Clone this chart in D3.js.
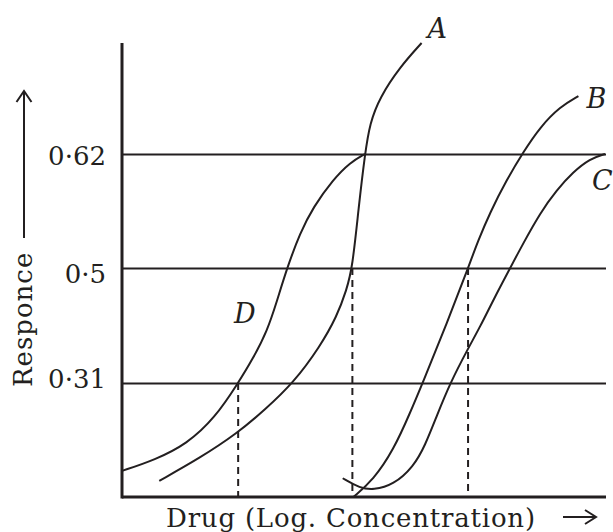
<!DOCTYPE html>
<html>
<head>
<meta charset="utf-8">
<script src="https://cdn.jsdelivr.net/npm/d3@7"></script>
<style>
  html, body { margin: 0; padding: 0; background: #fff; }
  svg { display: block; }
</style>
</head>
<body>
<svg id="chart" width="613" height="532"></svg>
<script>
// ---- data (x: log concentration, arbitrary units 0-100; y: response) ----
const seriesNames = ["A", "B", "C", "D"];
const aX = [7.7, 16.1, 23.8, 29.5, 35.4, 40.9, 44.4, 46.4, 47.6, 48.9, 50.2, 51.2, 53.3, 57.4, 61.9];
const aY = [0.044, 0.106, 0.173, 0.237, 0.31, 0.370, 0.420, 0.464, 0.5, 0.564, 0.62, 0.652, 0.679, 0.710, 0.735];
const bX = [47.8, 51.9, 56.1, 59.5, 62.1, 66.9, 71.5, 73.6, 76.0, 79.5, 82.9, 86.4, 90.5, 94.3];
const bY = [0.0, 0.046, 0.128, 0.228, 0.31, 0.404, 0.5, 0.529, 0.558, 0.593, 0.622, 0.648, 0.669, 0.680];
const cX = [45.6, 49.2, 51.9, 56.1, 60.2, 62.6, 65.1, 67.8, 71.5, 74.0, 76.7, 80.2, 82.9, 86.4, 89.8, 93.2, 96.7, 99.8];
const cY = [0.051, 0.024, 0.019, 0.033, 0.082, 0.139, 0.223, 0.31, 0.367, 0.403, 0.447, 0.5, 0.526, 0.558, 0.582, 0.601, 0.615, 0.62];
const dX = [0.0, 6.8, 13.4, 19.2, 24.0, 27.1, 30.0, 32.0, 34.1, 36.8, 39.5, 43.6, 47.1, 50.2];
const dY = [0.071, 0.101, 0.144, 0.215, 0.31, 0.351, 0.396, 0.445, 0.5, 0.537, 0.564, 0.593, 0.611, 0.62];
const tickValues = [0.31, 0.5, 0.62];
const tickLabels = ["0·31", "0·5", "0·62"];
const dropX = [24.0, 47.6, 71.5];
const dropY = [0.31, 0.5, 0.5];
const xTitle = "Drug (Log. Concentration)";
const yTitle = "Responce";

// ---- layout ----
const svg = d3.select("#chart");
const ink = "#231f20";
const serif = "'DejaVu Serif', serif";
const x = d3.scaleLinear().domain([0, 100]).range([122, 606]);
const y = d3.scaleLinear().domain([0, 0.31, 0.5, 0.62, 0.735]).range([497, 383, 268, 154, 43]);

// gridlines + tick labels via axis
const tickDy = { 0.31: 4, 0.5: 14, 0.62: 10 };
const yAxis = d3.axisLeft(y).tickValues(tickValues)
  .tickSize(-(x(100) - x(0))).tickPadding(16)
  .tickFormat((d, i) => tickLabels[i]);
const gy = svg.append("g").attr("transform", `translate(${x(0)},0)`).call(yAxis);
gy.select(".domain").remove();
gy.selectAll(".tick line").attr("stroke", ink).attr("stroke-width", 2);
gy.selectAll(".tick text")
  .attr("font-family", serif).attr("font-size", 26).attr("fill", ink)
  .attr("dy", null)
  .attr("y", d => tickDy[d]);

// dashed drop lines
svg.append("g").selectAll("line").data(dropX).join("line")
  .attr("x1", d => x(d)).attr("x2", d => x(d))
  .attr("y1", (d, i) => y(dropY[i])).attr("y2", y(0))
  .attr("stroke", ink).attr("stroke-width", 2).attr("stroke-dasharray", "7,5");

// axes
svg.append("line").attr("x1", x(0)).attr("x2", x(0)).attr("y1", y(0.735)).attr("y2", y(0) + 1.5)
  .attr("stroke", ink).attr("stroke-width", 3);
svg.append("line").attr("x1", x(0)).attr("x2", x(100)).attr("y1", y(0)).attr("y2", y(0))
  .attr("stroke", ink).attr("stroke-width", 3);

// curves
const seriesData = {
  A: aX.map((v, i) => [v, aY[i]]),
  B: bX.map((v, i) => [v, bY[i]]),
  C: cX.map((v, i) => [v, cY[i]]),
  D: dX.map((v, i) => [v, dY[i]])
};
const line = d3.line().x(d => x(d[0])).y(d => y(d[1])).curve(d3.curveBasis);
svg.append("g").selectAll("path").data(seriesNames).join("path")
  .attr("d", n => line(seriesData[n]))
  .attr("fill", "none").attr("stroke", ink).attr("stroke-width", 2);

// curve labels (pixel offsets from the end point of each curve)
const labelPos = {
  A: { dx: 6, dy: -5 },
  B: { dx: 8, dy: 12 },
  C: { dx: -13, dy: 36 },
  D: { dx: -131, dy: 169 }
};
svg.append("g").selectAll("text").data(seriesNames).join("text")
  .attr("x", n => { const p = seriesData[n][seriesData[n].length - 1]; return x(p[0]) + labelPos[n].dx; })
  .attr("y", n => { const p = seriesData[n][seriesData[n].length - 1]; return y(p[1]) + labelPos[n].dy; })
  .attr("font-family", serif).attr("font-style", "italic").attr("font-size", 27).attr("fill", ink)
  .text(n => n);

// x title + arrow
svg.append("text").attr("x", 166).attr("y", 527)
  .attr("font-family", serif).attr("font-size", 26).attr("letter-spacing", "0.8px").attr("fill", ink)
  .text(xTitle);
svg.append("path").attr("d", "M563,517 H596 M585,510 L596,517 L585,524")
  .attr("fill", "none").attr("stroke", ink).attr("stroke-width", 2);

// y title + arrow
svg.append("text").attr("transform", "translate(32,387) rotate(-90)")
  .attr("font-family", serif).attr("font-size", 26).attr("letter-spacing", "1px").attr("fill", ink)
  .text(yTitle);
svg.append("path").attr("d", "M24,238 V91 M16.5,102 L24,91 L31.5,102")
  .attr("fill", "none").attr("stroke", ink).attr("stroke-width", 2);
</script>
</body>
</html>
